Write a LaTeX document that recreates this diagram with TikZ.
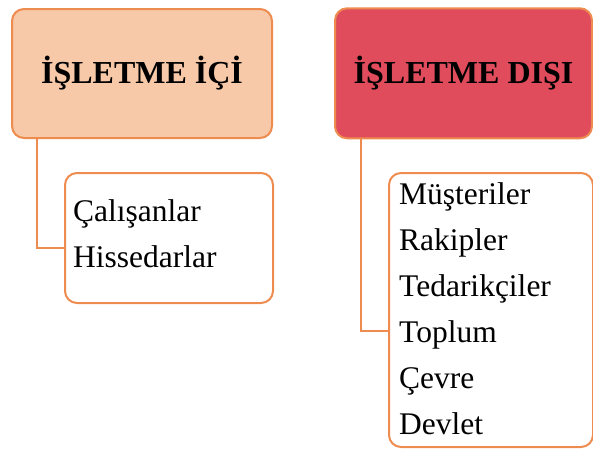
\documentclass[tikz,border=0pt]{standalone}
\usepackage{fontspec}
\setmainfont{Liberation Serif}
\definecolor{borange}{RGB}{238,140,80}
\definecolor{peach}{RGB}{247,201,168}
\definecolor{redfill}{RGB}{224,76,92}
\tikzset{
  headbox/.style={draw=borange, line width=2pt, rounded corners=12pt, inner sep=0pt,
    font=\fontsize{32}{37}\selectfont\bfseries, text=black},
  childbox/.style={draw=borange, line width=2pt, rounded corners=12pt, fill=white, inner sep=0pt},
  conn/.style={draw=borange, line width=2pt},
  item/.style={inner sep=0pt, font=\fontsize{31.5}{46}\selectfont, text=black, anchor=base west}
}
\begin{document}
\begin{tikzpicture}[x=1pt,y=-1pt]
\useasboundingbox (0,0) rectangle (593,448);
% headers
\node[headbox, fill=peach, minimum width=260pt, minimum height=129pt] (inhead) at (142,73.5) {İŞLETME İÇİ};
\node[headbox, fill=redfill, minimum width=257pt, minimum height=130pt] (outhead) at (463.5,73.3) {İŞLETME DIŞI};
% child boxes
\node[childbox, anchor=north west, minimum width=208pt, minimum height=130pt] (inlist) at (64,172) {};
\node[childbox, anchor=north west, minimum width=204pt, minimum height=274pt] (outlist) at (388,172) {};
% connectors
\draw[conn] ([xshift=26pt]inhead.south west) |- ([yshift=-10pt]inlist.west);
\draw[conn] ([xshift=27pt]outhead.south west) |- ([yshift=-21pt]outlist.west);
% items
\node[item] (i1) at (73,221) {Çalışanlar};
\node[item] (i2) at (73,267.5) {Hissedarlar};
\node[item] (o1) at (399,204) {Müşteriler};
\node[item] (o2) at (399,250) {Rakipler};
\node[item] (o3) at (399,296) {Tedarikçiler};
\node[item] (o4) at (399,342) {Toplum};
\node[item] (o5) at (399,388) {Çevre};
\node[item] (o6) at (399,434) {Devlet};
\end{tikzpicture}
\end{document}
